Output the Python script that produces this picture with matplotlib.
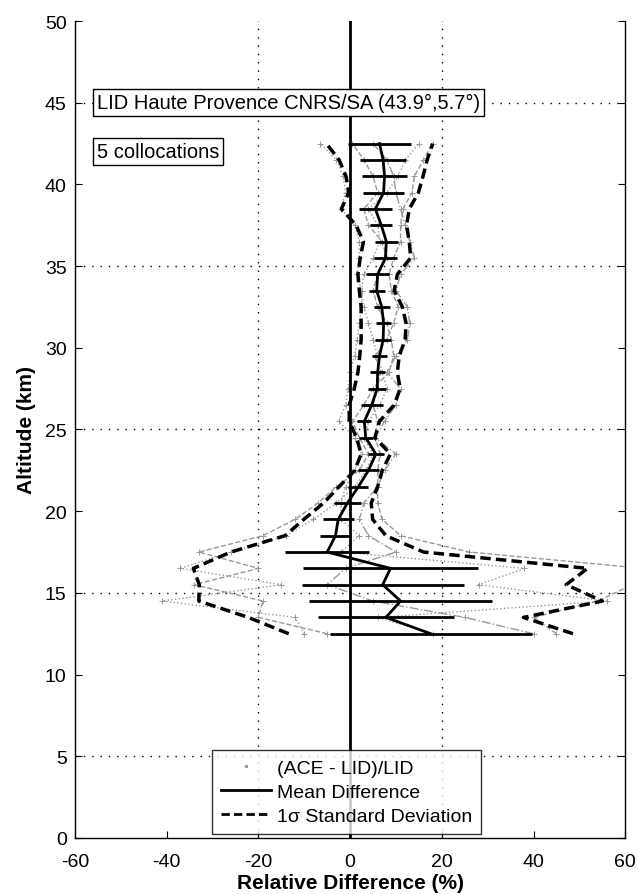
import numpy as np
import matplotlib.pyplot as plt

plt.rcParams['font.family'] = ['Liberation Sans', 'DejaVu Sans']
plt.rcParams['axes.unicode_minus'] = False

# altitude levels (km), bottom to top
altitud = [12.5, 13.5, 14.5, 15.5, 16.5, 17.5, 18.5, 19.5, 20.5, 21.5, 22.5,
           23.5, 24.5, 25.5, 26.5, 27.5, 28.5, 29.5, 30.5, 31.5, 32.5, 33.5,
           34.5, 35.5, 36.5, 37.5, 38.5, 39.5, 40.5, 41.5, 42.5]

# mean relative difference (%) and its error bar half width
media = [17.6, 7.8, 11.0, 7.1, 8.8, -5.0, -3.2, -2.6, -0.6, 1.8, 4.0,
         5.6, 3.4, 3.1, 4.7, 5.9, 6.0, 6.4, 7.2, 7.3, 6.9, 5.8,
         6.0, 7.7, 7.9, 6.8, 5.5, 7.3, 7.5, 7.2, 6.4]
error = [22.1, 14.9, 19.9, 17.7, 19.1, 9.2, 3.4, 3.4, 2.9, 2.2, 2.2,
         1.8, 1.5, 1.5, 2.4, 2.0, 1.6, 1.6, 1.7, 1.6, 1.8, 1.7,
         2.5, 2.5, 2.5, 2.4, 3.6, 4.5, 5.0, 5.0, 6.8]
# 1 sigma standard deviation
sigma = [31.0, 30.0, 44.0, 40.0, 43.0, 21.0, 11.0, 7.5, 5.2, 4.2, 3.0,
         3.2, 2.0, 3.3, 4.9, 5.0, 4.3, 4.3, 4.8, 4.9, 4.5, 3.8,
         4.3, 5.5, 5.0, 5.5, 7.4, 7.6, 8.4, 9.6, 11.6]

# individual collocations (ACE - LID)/LID (%)
perfil_1 = [-10, -12, -41, -15, -37, -26, -14, -8, -3, 1, 3.5,
            5, 3, 4, 6.5, 8, 7, 6, 5, 4, 3, 2.5,
            1.5, 2, 2, 1, -2, -1, -1.5, -3, -6.5]
perfil_2 = [-5, -20, -19, -34, -20, -33, -19, -12, -7, -3, 2,
            4, 2, 0.5, 3, 5, 8.5, 9.5, 9, 8, 6, 5,
            6, 8, 7, 4, 3, 6, 5, 3, 0.5]
perfil_3 = [40, 25, 5, -5, -1, 10, 4, 2, 3, 6, 7.5,
            10, 5.5, 7.5, 10, 11, 8, 10, 12.5, 13, 12.5, 10,
            11, 14, 13, 12, 11, 10, 9.5, 8, 5]
perfil_4 = [18, 6, 56, 28, 38, -2, 2, -2, -2, -1, 1,
            2.5, 1, -2.5, -1, -0.5, 0, 1, 1.5, 2, 2.5, 2.5,
            3, 5, 6.5, 6, 4, 8, 10.5, 12, 15]
perfil_5 = [45, 40, 54, 61.5, 64, 26, 11, 7, 6, 6, 6,
            6.5, 5.5, 6, 5, 6, 6.5, 5.5, 8, 9.5, 10.5, 9,
            8.5, 9.5, 11, 11, 11.5, 13.5, 14, 16, 18]

texto_sitio = 'LID Haute Provence CNRS/SA (43.9°,5.7°)'
texto_n = '5 collocations'

media = np.array(media)
sigma = np.array(sigma)

fig = plt.figure(figsize=(6.38, 8.95), dpi=100)
ax = fig.add_axes([0.1176, 0.0626, 0.8624, 0.9128])

# grid lines (dotted) only where the original has them
for yy in [5, 15, 25, 35, 45]:
    ax.axhline(yy, color='k', lw=1, ls=(0, (1, 5)), zorder=0)
for xx in [-20, 20]:
    ax.axvline(xx, color='k', lw=1, ls=(0, (1, 5)), zorder=0)

estilos = [':', '--', '-.', ':', '--']
perfiles = [perfil_1, perfil_2, perfil_3, perfil_4, perfil_5]
for p, ls in zip(perfiles, estilos):
    ax.plot(p, altitud, ls=ls, color='0.6', lw=1, marker='+', ms=4,
            mew=0.7, zorder=2)

ax.axvline(0, color='k', lw=2, zorder=3)

ax.errorbar(media, altitud, xerr=error, fmt='-', color='k', lw=2,
            elinewidth=2, capsize=0, zorder=4)
ax.plot(media - sigma, altitud, color='k', lw=2.5, ls=(0, (3, 1.5)), zorder=4)
ax.plot(media + sigma, altitud, color='k', lw=2.5, ls=(0, (3, 1.5)), zorder=4)

ax.set_xlim(-60, 60)
ax.set_ylim(0, 50)
ax.set_xticks([-60, -40, -20, 0, 20, 40, 60])
ax.set_yticks(np.arange(0, 51, 5))
ax.tick_params(direction='in', length=5, labelsize=14, right=True)
ax.tick_params(axis='x', pad=11)
ax.tick_params(axis='y', pad=6)
ax.spines['top'].set_visible(False)
for s in ['left', 'bottom', 'right']:
    ax.spines[s].set_linewidth(1)

ax.set_xlabel('Relative Difference (%)', fontsize=15, fontweight='bold',
              labelpad=2)
ax.set_ylabel('Altitude (km)', fontsize=15, fontweight='bold', labelpad=6)

caja = dict(boxstyle='square,pad=0.2', fc='white', ec='k', lw=1)
ax.text(-55.2, 45, texto_sitio, fontsize=14.5, va='center', ha='left',
        bbox=caja, zorder=6)
ax.text(-55.2, 42.0, texto_n, fontsize=14.5, va='center', ha='left',
        bbox=caja, zorder=6)

h1, = ax.plot([], [], ls='none', marker='.', ms=3, color='0.6')
h2, = ax.plot([], [], color='k', lw=2)
h3, = ax.plot([], [], color='k', lw=2, ls=(0, (3, 1.5)))
leg = ax.legend([h1, h2, h3],
                ['(ACE - LID)/LID', 'Mean Difference',
                 '1\u03c3 Standard Deviation'],
                loc='lower left', bbox_to_anchor=(0.249, 0.005),
                fontsize=14, frameon=True, fancybox=False, borderpad=0.45,
                handlelength=2.6, handletextpad=0.3, labelspacing=0.34,
                borderaxespad=0)
leg.get_frame().set_edgecolor('k')
leg.get_frame().set_linewidth(1)
leg.set_zorder(7)

fig.savefig('out.png', dpi=100)
